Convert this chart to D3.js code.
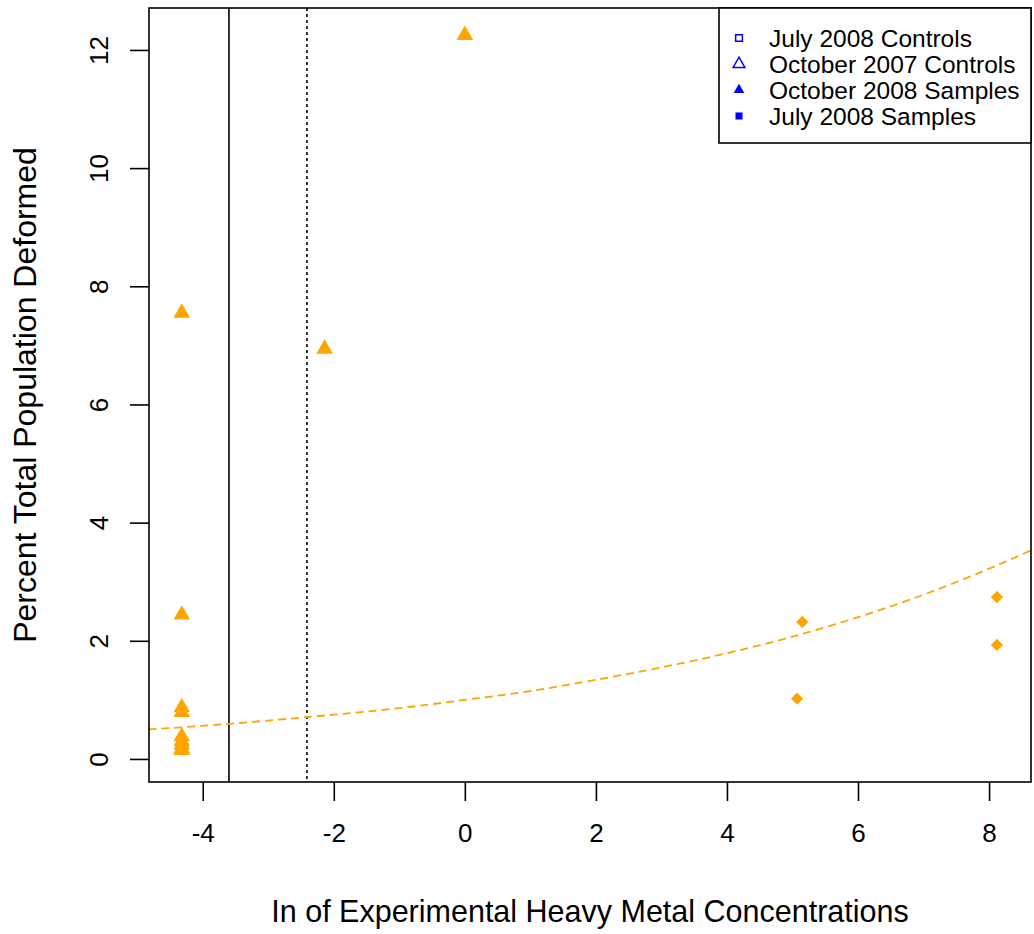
<!DOCTYPE html>
<html>
<head>
<meta charset="utf-8">
<script src="https://cdn.jsdelivr.net/npm/d3@7"></script>
<style>
  body { margin: 0; background: #ffffff; }
  text { font-family: "Liberation Sans", Arial, sans-serif; fill: #000; }
</style>
</head>
<body>
<svg id="chart"></svg>
<script>
// scatter of deformity vs ln metal concentration

var width = 1034;
var height = 934;

// plot box
var margin = { top: 8, right: 3, bottom: 152, left: 149 };

// DATA
// October 2008 samples (filled triangles)
var triX = [0, -2.14, -4.32, -4.32, -4.32, -4.32, -4.32, -4.32, -4.32, -4.32, -4.32];
var triY = [12.25, 6.94, 7.55, 2.44, 0.87, 0.79, 0.38, 0.30, 0.24, 0.18, 0.15];
// July 2008 samples (diamonds)
var dmdX = [5.15, 5.07, 8.12, 8.12];
var dmdY = [2.32, 1.02, 2.74, 1.93];
// fitted curve
var fitX = [-4.83, -4, -3, -2, -1, 0, 1, 2, 3, 4, 5, 6, 7, 8, 8.64];
var fitY = [0.50, 0.56, 0.65, 0.75, 0.86, 1.00, 1.15, 1.34, 1.55, 1.79, 2.07, 2.40, 2.78, 3.22, 3.53];
// reference lines
var solidLineX = -3.60;
var dottedLineX = -2.41;

var xTicks = [-4, -2, 0, 2, 4, 6, 8];
var yTicks = [0, 2, 4, 6, 8, 10, 12];

var legendLabels = ["July 2008 Controls", "October 2007 Controls", "October 2008 Samples", "July 2008 Samples"];

var svg = d3.select("#chart")
    .attr("width", width)
    .attr("height", height);

// SCALES
var x = d3.scaleLinear()
    .domain([-4.82, 8.64])
    .range([margin.left, width - margin.right]);
var y = d3.scaleLinear()
    .domain([-0.39, 12.71])
    .range([height - margin.bottom, margin.top]);

var orange = "#FFA500";
var blue = "#0000FF";

// AXES
var xAxis = svg.append("g")
    .attr("transform", "translate(0," + (height - margin.bottom) + ")")
    .call(d3.axisBottom(x).tickValues(xTicks).tickSize(19).tickSizeOuter(0).tickPadding(23)
        .tickFormat(d => d < 0 ? "-" + Math.abs(d) : d));
xAxis.select(".domain").remove();
xAxis.selectAll("line").attr("stroke", "#000").attr("stroke-width", 1.6);
xAxis.selectAll("text").style("font-size", "26px").style("font-family", "Liberation Sans, Arial, sans-serif");

var yAxis = svg.append("g")
    .attr("transform", "translate(" + margin.left + ",0)")
    .call(d3.axisLeft(y).tickValues(yTicks).tickSize(19).tickSizeOuter(0));
yAxis.select(".domain").remove();
yAxis.selectAll("line").attr("stroke", "#000").attr("stroke-width", 1.6);
yAxis.selectAll("text")
    .attr("x", null).attr("dy", null)
    .attr("text-anchor", "middle")
    .attr("transform", "translate(-41,0) rotate(-90)")
    .style("font-size", "26px").style("font-family", "Liberation Sans, Arial, sans-serif");

// axis titles
svg.append("text")
    .attr("x", (x.range()[0] + x.range()[1]) / 2)
    .attr("y", 922)
    .attr("text-anchor", "middle")
    .style("font-size", "30.5px")
    .text("In of Experimental Heavy Metal Concentrations");

svg.append("text")
    .attr("transform", "translate(36," + ((y.range()[0] + y.range()[1]) / 2) + ") rotate(-90)")
    .attr("text-anchor", "middle")
    .style("font-size", "32px")
    .text("Percent Total Population Deformed");

// REFERENCE LINES
svg.append("line")
    .attr("x1", x(solidLineX)).attr("x2", x(solidLineX))
    .attr("y1", y.range()[1]).attr("y2", y.range()[0])
    .attr("stroke", "#000").attr("stroke-width", 1.6);
svg.append("line")
    .attr("x1", x(dottedLineX)).attr("x2", x(dottedLineX))
    .attr("y1", y.range()[1]).attr("y2", y.range()[0])
    .attr("stroke", "#000").attr("stroke-width", 1.6)
    .attr("stroke-dasharray", "3,3");

// FIT CURVE
var fitLine = d3.line()
    .x((d, i) => x(fitX[i]))
    .y((d, i) => y(fitY[i]))
    .curve(d3.curveMonotoneX);
svg.append("path")
    .datum(fitX)
    .attr("d", fitLine)
    .attr("fill", "none")
    .attr("stroke", orange)
    .attr("stroke-width", 1.8)
    .attr("stroke-dasharray", "8,5");

// POINTS
var tri = d3.symbol().type(d3.symbolTriangle).size(120);
svg.append("g").selectAll("path")
    .data(triX)
    .enter()
    .append("path")
    .attr("d", tri)
    .attr("transform", (d, i) => "translate(" + x(d) + "," + y(triY[i]) + ")")
    .attr("fill", orange);

var dmd = d3.symbol().type(d3.symbolSquare).size(75);
svg.append("g").selectAll("path")
    .data(dmdX)
    .enter()
    .append("path")
    .attr("d", dmd)
    .attr("transform", (d, i) => "translate(" + x(d) + "," + y(dmdY[i]) + ") rotate(45)")
    .attr("fill", orange);

// PLOT BOX
svg.append("rect")
    .attr("x", margin.left).attr("y", margin.top)
    .attr("width", width - margin.right - margin.left)
    .attr("height", height - margin.bottom - margin.top)
    .attr("fill", "none").attr("stroke", "#000").attr("stroke-width", 1.6);

// LEGEND
var legend = svg.append("g");
legend.append("rect")
    .attr("x", 719).attr("y", margin.top)
    .attr("width", width - margin.right - 719)
    .attr("height", 143 - margin.top)
    .attr("fill", "#fff").attr("stroke", "#000").attr("stroke-width", 1.6);

var legendShapes = [
    { type: d3.symbolSquare, size: 45, fill: "none" },
    { type: d3.symbolTriangle, size: 60, fill: "none" },
    { type: d3.symbolTriangle, size: 50, fill: blue },
    { type: d3.symbolSquare, size: 50, fill: blue }
];

var rows = legend.selectAll("g.row")
    .data(legendLabels)
    .enter()
    .append("g")
    .attr("class", "row")
    .attr("transform", (d, i) => "translate(0," + (38 + i * 26) + ")");

rows.append("path")
    .attr("d", (d, i) => d3.symbol().type(legendShapes[i].type).size(legendShapes[i].size)())
    .attr("transform", "translate(739,0)")
    .attr("fill", (d, i) => legendShapes[i].fill)
    .attr("stroke", (d, i) => legendShapes[i].fill === "none" ? blue : "none")
    .attr("stroke-width", 1.5);

rows.append("text")
    .attr("x", 769)
    .attr("dy", "0.36em")
    .style("font-size", "24.5px")
    .text(d => d);
</script>
</body>
</html>
